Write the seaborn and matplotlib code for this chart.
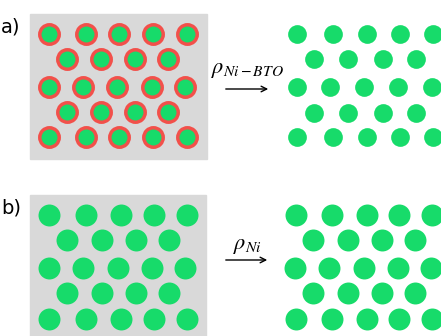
import numpy as np
import pandas as pd
import matplotlib.pyplot as plt
import seaborn as sns

# Rácsok: sor y-pozíciók és soronkénti x-pozíciók (pixelben)
a_left_y = [34, 59, 87, 112, 137]
a_left_x = [[49, 86, 119, 153, 187], [67, 101, 135, 168], [49, 83, 117, 152, 185],
            [67, 101, 135, 168], [49, 86, 119, 153, 187]]
a_right_y = [34, 59, 87, 113, 137]
a_right_x = [[297, 333, 367, 400, 433], [314, 348, 383, 416], [297, 330, 364, 398, 432],
             [314, 348, 383, 416], [297, 333, 367, 400, 433]]
b_left_y = [215, 240, 268, 293, 319]
b_left_x = [[49, 86, 121, 154, 187], [67, 102, 136, 169], [49, 83, 118, 152, 185],
            [67, 102, 136, 169], [49, 86, 121, 154, 187]]
b_right_y = [215, 240, 268, 293, 319]
b_right_x = [[296, 332, 367, 399, 432], [313, 348, 382, 415], [295, 329, 364, 398, 431],
             [313, 348, 382, 415], [296, 332, 367, 399, 432]]

labels = ["a)", "b)"]
arrow_labels = [r"$\rho_{Ni-BTO}$", r"$\rho_{Ni}$"]

GREEN = "#17DB6A"
RED = "#F2504A"
GRAY = "#D9D9D9"


def grid_df(ys, xs):
    rows = []
    for y, xr in zip(ys, xs):
        for x in xr:
            rows.append((x, y))
    return pd.DataFrame(rows, columns=["x", "y"])


fig = plt.figure(figsize=(4.41, 3.36), dpi=100)
ax = fig.add_axes([0, 0, 1, 1])

# Szürke hordozók
ax.add_patch(plt.Rectangle((30, 14), 177, 145, color=GRAY, zorder=0))
ax.add_patch(plt.Rectangle((30, 195), 176, 141, color=GRAY, zorder=0))

sns.scatterplot(data=grid_df(a_left_y, a_left_x), x="x", y="y", s=196, color=GREEN,
                edgecolor=RED, linewidth=2.5, ax=ax, zorder=3)
sns.scatterplot(data=grid_df(a_right_y, a_right_x), x="x", y="y", s=182, color=GREEN,
                linewidth=0, ax=ax, zorder=3)
sns.scatterplot(data=grid_df(b_left_y, b_left_x), x="x", y="y", s=250, color=GREEN,
                linewidth=0, ax=ax, zorder=3)
sns.scatterplot(data=grid_df(b_right_y, b_right_x), x="x", y="y", s=250, color=GREEN,
                linewidth=0, ax=ax, zorder=3)
ax.set_xlim(0, 441)
ax.set_ylim(336, 0)
ax.axis("off")

plt.rcParams["mathtext.fontset"] = "stix"
ax.text(1, 27, labels[0], fontsize=14, va="center", ha="left", family="DejaVu Sans")
ax.text(1, 208, labels[1], fontsize=14, va="center", ha="left", family="DejaVu Sans")

for y_arrow, y_txt, txt, x_end in [(89, 70, arrow_labels[0], 271), (260, 246, arrow_labels[1], 270)]:
    ax.annotate("", xy=(x_end, y_arrow), xytext=(223, y_arrow),
                arrowprops=dict(arrowstyle="->", color="black", lw=1))
    ax.text(247, y_txt, txt, fontsize=16, ha="center", va="center")

plt.savefig("out.png", dpi=100)
plt.close()
